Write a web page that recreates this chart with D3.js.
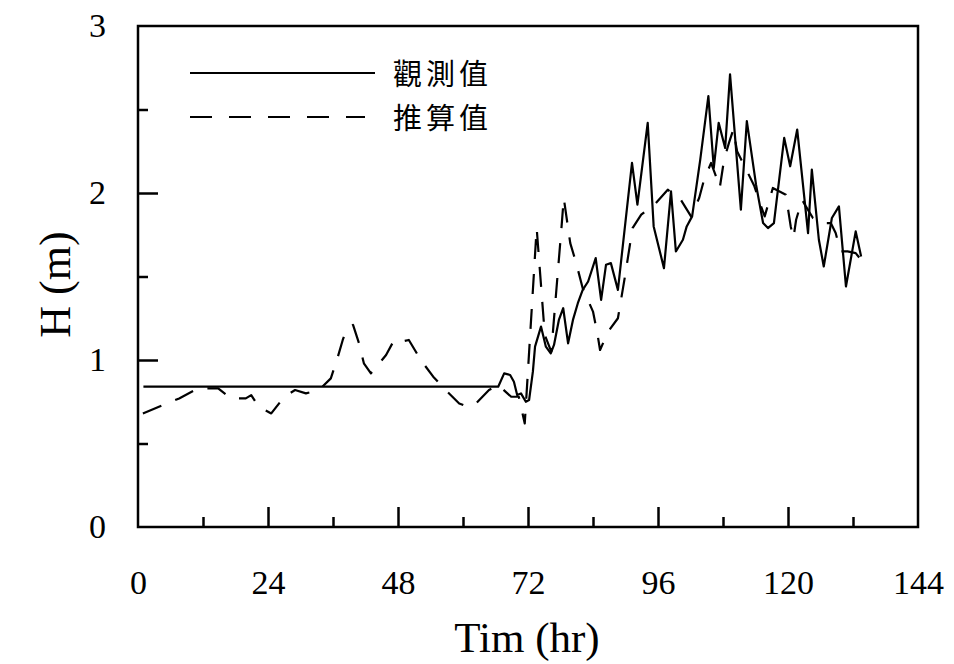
<!DOCTYPE html>
<html>
<head>
<meta charset="utf-8">
<script src="https://cdn.jsdelivr.net/npm/d3@7"></script>
<style>
html,body{margin:0;padding:0;background:#fff;}
svg{display:block;}
</style>
</head>
<body>
<svg id="chart" width="954" height="664"></svg>
<script>
// ---- data ----
const xTickLabels = [0, 24, 48, 72, 96, 120, 144];
const xMinorTicks = [12, 36, 60, 84, 108, 132];
const yTickLabels = [0, 1, 2, 3];
const yMinorTicks = [0.5, 1.5, 2.5];
const yMajorTicks = [1, 2];
const xMajorTicks = [24, 48, 72, 96, 120];
const seriesNames = ["觀測值", "推算值"];

// observed (solid)
const obsT = [1, 66.5, 67.6, 68.7, 69.4, 70.0, 70.7, 71.6, 72.2, 72.9, 73.3, 74.4, 75.3, 76.2, 76.8, 77.7, 78.5, 79.4, 80.3, 81.2, 82.1, 83.1, 84.5, 85.5, 86.4, 87.3, 88.6, 91.2, 92.2, 94.1, 95.2, 97.1, 98.4, 99.3, 100.6, 101.3, 102.3, 103.8, 105.3, 106.3, 107.2, 108.4, 109.3, 111.3, 112.4, 114.1, 115.4, 116.3, 117.4, 119.3, 120.4, 121.7, 123.7, 124.4, 125.7, 126.6, 128.1, 129.4, 130.7, 132.5, 133.5];
const obsH = [0.84, 0.84, 0.92, 0.91, 0.87, 0.79, 0.80, 0.75, 0.76, 0.93, 1.08, 1.20, 1.08, 1.04, 1.09, 1.24, 1.31, 1.10, 1.24, 1.34, 1.42, 1.47, 1.61, 1.36, 1.57, 1.58, 1.42, 2.18, 1.93, 2.42, 1.80, 1.55, 2.01, 1.65, 1.72, 1.80, 1.86, 2.20, 2.58, 2.15, 2.42, 2.27, 2.71, 1.90, 2.43, 2.05, 1.82, 1.79, 1.82, 2.33, 2.16, 2.38, 1.76, 2.14, 1.72, 1.56, 1.85, 1.92, 1.44, 1.77, 1.62];

// predicted (dashed)
const predT = [0.9, 4.6, 7.6, 11.1, 14.8, 17.2, 19.9, 20.9, 22.3, 24.6, 27.0, 29.0, 31.0, 33.4, 35.6, 36.9, 37.8, 38.6, 39.7, 40.8, 41.7, 43.0, 45.8, 47.3, 48.6, 50.0, 52.2, 54.5, 56.5, 59.3, 60.9, 62.4, 64.8, 66.5, 68.9, 70.3, 71.4, 73.6, 75.1, 76.3, 78.2, 78.6, 79.8, 80.9, 82.1, 84.0, 84.8, 85.3, 86.8, 88.6, 89.9, 91.3, 92.9, 95.6, 97.8, 100.2, 102.1, 103.6, 104.5, 105.8, 106.7, 107.4, 108.2, 109.1, 109.9, 110.6, 112.0, 113.8, 114.8, 115.7, 117.2, 119.6, 120.5, 121.0, 121.5, 122.6, 123.3, 124.6, 126.1, 127.9, 128.8, 129.7, 131.0, 132.5, 133.5];
const predH = [0.68, 0.73, 0.77, 0.83, 0.83, 0.77, 0.77, 0.79, 0.72, 0.68, 0.78, 0.82, 0.80, 0.82, 0.89, 1.02, 1.12, 1.19, 1.21, 1.10, 0.98, 0.92, 1.03, 1.12, 1.11, 1.12, 1.00, 0.90, 0.83, 0.74, 0.72, 0.74, 0.82, 0.85, 0.78, 0.78, 0.62, 1.79, 1.15, 1.05, 1.80, 1.97, 1.70, 1.58, 1.43, 1.29, 1.16, 1.06, 1.17, 1.25, 1.50, 1.79, 1.87, 1.94, 2.02, 1.96, 1.86, 1.97, 2.08, 2.18, 2.10, 2.03, 2.20, 2.30, 2.38, 2.25, 2.16, 2.04, 1.94, 1.86, 2.03, 1.99, 1.80, 1.73, 1.84, 1.96, 1.92, 1.85, 1.82, 1.82, 1.76, 1.65, 1.65, 1.64, 1.60];

// ---- layout ----
const svg = d3.select("#chart");
const L = 138, R = 918, T = 26, B = 527;
const serif = "'Liberation Serif','Times New Roman',serif";
const cjk = "'Noto Sans CJK TC','Noto Sans CJK SC',sans-serif";

const x = d3.scaleLinear().domain([0, 144]).range([L, R]);
const y = d3.scaleLinear().domain([0, 3]).range([B, T]);

// x axis: major + minor inward ticks, labels
svg.append("g").attr("transform", `translate(0,${B})`)
  .call(d3.axisBottom(x).tickValues(xMinorTicks).tickSize(-10).tickFormat(""));
svg.append("g").attr("transform", `translate(0,${B})`)
  .call(d3.axisBottom(x).tickValues(xMajorTicks).tickSize(-20).tickFormat(""));
svg.append("g").attr("transform", `translate(0,${B})`)
  .call(d3.axisBottom(x).tickValues(xTickLabels).tickSize(0).tickPadding(43).tickFormat(d3.format("d")));

// y axis
svg.append("g").attr("transform", `translate(${L},0)`)
  .call(d3.axisLeft(y).tickValues(yMinorTicks).tickSize(-10).tickFormat(""));
svg.append("g").attr("transform", `translate(${L},0)`)
  .call(d3.axisLeft(y).tickValues(yMajorTicks).tickSize(-20).tickFormat(""));
svg.append("g").attr("transform", `translate(${L},0)`)
  .call(d3.axisLeft(y).tickValues(yTickLabels).tickSize(0).tickPadding(32).tickFormat(d3.format("d")));

svg.selectAll(".domain").remove();
svg.selectAll(".tick line").attr("stroke", "#000").attr("stroke-width", 2.5);
svg.selectAll(".tick text").attr("fill", "#000")
  .style("font-family", serif).style("font-size", "34px");

// frame
svg.append("rect").attr("x", L).attr("y", T).attr("width", R - L).attr("height", B - T)
  .attr("fill", "none").attr("stroke", "#000").attr("stroke-width", 2.5);

// series
const obs = obsT.map((t, i) => [t, obsH[i]]);
const pred = predT.map((t, i) => [t, predH[i]]);
const line = d3.line().x(d => x(d[0])).y(d => y(d[1]));

svg.append("path").datum(pred).attr("d", line)
  .attr("fill", "none").attr("stroke", "#000").attr("stroke-width", 2.2)
  .attr("stroke-dasharray", "20,15").attr("stroke-linejoin", "round");
svg.append("path").datum(obs).attr("d", line)
  .attr("fill", "none").attr("stroke", "#000").attr("stroke-width", 2.2)
  .attr("stroke-linejoin", "round");

// legend
const leg = svg.append("g");
leg.append("line").attr("x1", 190).attr("x2", 375).attr("y1", 73).attr("y2", 73)
  .attr("stroke", "#000").attr("stroke-width", 2.2);
leg.append("line").attr("x1", 190).attr("x2", 365).attr("y1", 117).attr("y2", 117)
  .attr("stroke", "#000").attr("stroke-width", 2.2).attr("stroke-dasharray", "22,17");
leg.selectAll("text.lab").data(seriesNames).join("text")
  .attr("class", "lab")
  .attr("x", 393).attr("y", (d, i) => 75 + i * 44)
  .attr("dy", "0.36em")
  .style("font-family", cjk).style("font-size", "29px").style("letter-spacing", "4px")
  .attr("fill", "#000").text(d => d);

// axis titles
svg.append("text").attr("x", (L + R) / 2 - 1).attr("y", 652)
  .attr("text-anchor", "middle").style("font-family", serif).style("font-size", "43px")
  .attr("fill", "#000").text("Tim (hr)");
svg.append("text").attr("transform", `translate(70,${(T + B) / 2 + 8}) rotate(-90)`)
  .attr("text-anchor", "middle").style("font-family", serif).style("font-size", "44px")
  .attr("fill", "#000").text("H (m)");
</script>
</body>
</html>
